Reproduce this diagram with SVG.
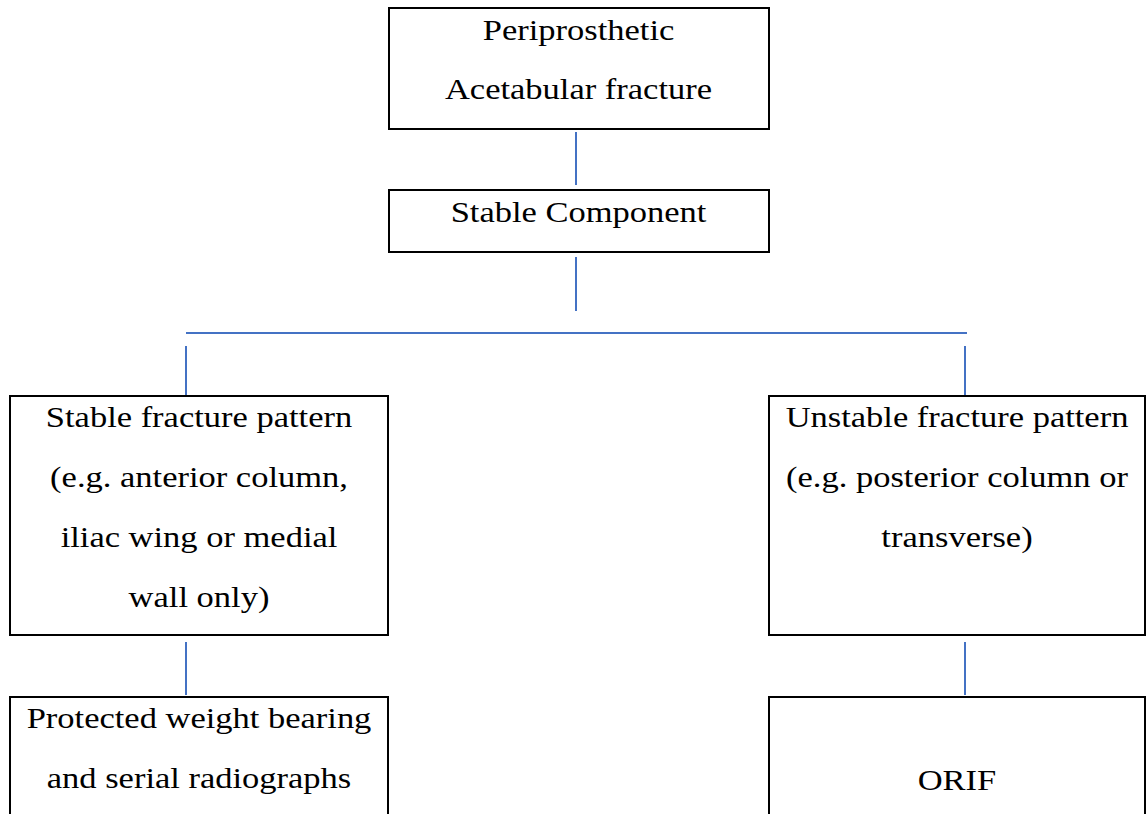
<svg xmlns="http://www.w3.org/2000/svg" width="1146" height="814" viewBox="0 0 1146 814">
<style>
.box{fill:#fff;stroke:#000;stroke-width:2}
.t{font-family:"Liberation Serif","Times New Roman",serif;font-size:30px;fill:#000;text-anchor:middle}
.c{stroke:#4472C4;stroke-width:2;fill:none}
</style>
<rect width="1146" height="814" fill="#fff"/>
<g id="connectors">
<line class="c" x1="576" y1="132" x2="576" y2="185"/>
<line class="c" x1="576" y1="257" x2="576" y2="311"/>
<line class="c" x1="186" y1="333" x2="967" y2="333"/>
<line class="c" x1="186" y1="346" x2="186" y2="399"/>
<line class="c" x1="965" y1="346" x2="965" y2="399"/>
<line class="c" x1="186" y1="642" x2="186" y2="695"/>
<line class="c" x1="965" y1="642" x2="965" y2="695"/>
</g>
<g id="n1">
<rect class="box" x="389" y="8" width="380" height="121"/>
<g transform="translate(578.5,0) scale(1.15,1)">
<text class="t" x="0" y="40">Periprosthetic</text>
<text class="t" x="0" y="99">Acetabular fracture</text>
</g>
</g>
<g id="n2">
<rect class="box" x="389" y="190" width="380" height="62"/>
<g transform="translate(578.5,0) scale(1.15,1)">
<text class="t" x="0" y="222">Stable Component</text>
</g>
</g>
<g id="n3">
<rect class="box" x="10" y="396" width="378" height="239"/>
<g transform="translate(199,0) scale(1.15,1)">
<text class="t" x="0" y="427">Stable fracture pattern</text>
<text class="t" x="0" y="487">(e.g. anterior column,</text>
<text class="t" x="0" y="547">iliac wing or medial</text>
<text class="t" x="0" y="607">wall only)</text>
</g>
</g>
<g id="n4">
<rect class="box" x="769" y="396" width="376" height="239"/>
<g transform="translate(957,0) scale(1.15,1)">
<text class="t" x="0" y="427">Unstable fracture pattern</text>
<text class="t" x="0" y="487">(e.g. posterior column or</text>
<text class="t" x="0" y="547">transverse)</text>
</g>
</g>
<g id="n5">
<rect class="box" x="10" y="697" width="378" height="130"/>
<g transform="translate(199,0) scale(1.15,1)">
<text class="t" x="0" y="728">Protected weight bearing</text>
<text class="t" x="0" y="788">and serial radiographs</text>
</g>
</g>
<g id="n6">
<rect class="box" x="769" y="697" width="376" height="130"/>
<g transform="translate(957,0) scale(1.15,1)">
<text class="t" x="0" y="790">ORIF</text>
</g>
</g>
</svg>
